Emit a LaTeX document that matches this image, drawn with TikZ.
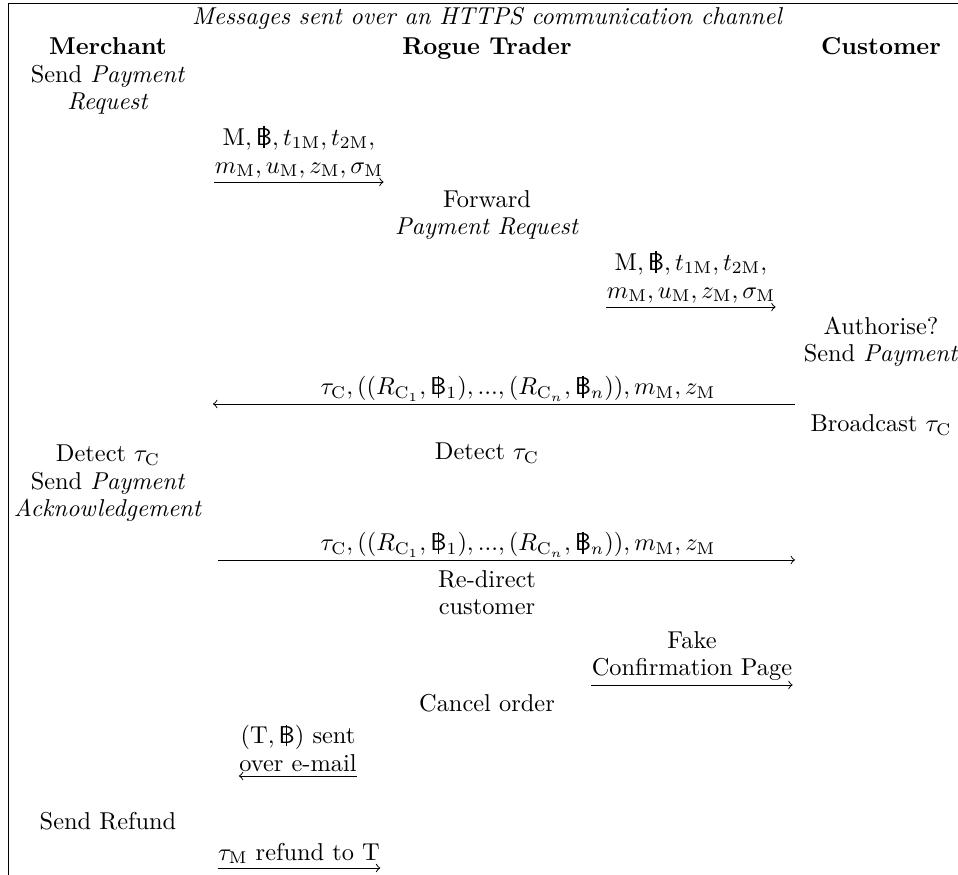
\documentclass[tikz,border=0pt]{standalone}
\newcommand{\btc}{\mbox{\ooalign{\textsf{B}\cr\hidewidth\rule[-0.25ex]{0.055em}{2.05ex}\hidewidth\cr}}}
\begin{document}
\begin{tikzpicture}[x=0.41pt, y=-0.41pt, font=\fontsize{10pt}{11.4pt}\selectfont,
  act/.style={align=center, anchor=base, inner sep=0pt},
  msg/.style={align=center, anchor=south, inner xsep=0pt, inner ysep=1.5pt},
  lbl/.style={above, inner sep=1pt}]
\useasboundingbox (0,0) rectangle (958,875);
\coordinate (fr0) at (8,875);
\coordinate (fr1) at (958,3);
\draw (fr0) |- (fr1);
\node[act] (title) at (487,25) {\itshape Messages sent over an HTTPS communication channel};
\node[act] (merchant) at (108,55) {\textbf{Merchant}};
\node[act] (trader) at (487,55) {\textbf{Rogue Trader}};
\node[act] (customer) at (881,55) {\textbf{Customer}};
\node[act] (m1) at (108,110) {Send \textit{Payment}\\ \textit{Request}};
\node[msg] (msg1) at (299,182) {$\mathrm{M}, \btc, t_{1\mathrm{M}}, t_{2\mathrm{M}},$\\ $m_\mathrm{M}, u_\mathrm{M}, z_\mathrm{M}, \sigma_\mathrm{M}$};
\draw[->] (msg1.south west) -- (msg1.south east);
\node[act] (t1) at (487,235) {Forward\\ \textit{Payment Request}};
\node[msg] (msg2) at (691,307) {$\mathrm{M}, \btc, t_{1\mathrm{M}}, t_{2\mathrm{M}},$\\ $m_\mathrm{M}, u_\mathrm{M}, z_\mathrm{M}, \sigma_\mathrm{M}$};
\draw[->] (msg2.south west) -- (msg2.south east);
\node[act] (c1) at (881,362) {Authorise?\\ Send \textit{Payment}};
\coordinate (p3a) at (795,404);
\coordinate (p3b) at (213,404);
\draw[->] (p3a) -- node[lbl, pos=0.476] (msg3) {$\tau_\mathrm{C}, ((R_{\mathrm{C}_1}, \btc_1), ..., (R_{\mathrm{C}_n}, \btc_n)), m_\mathrm{M}, z_\mathrm{M}$} (p3b);
\node[act] (c2) at (881,432) {Broadcast $\tau_\mathrm{C}$};
\node[act] (m2) at (108,517) {Detect $\tau_\mathrm{C}$\\ Send \textit{Payment}\\ \textit{Acknowledgement}};
\node[act] (t2) at (487,460) {Detect $\tau_\mathrm{C}$};
\coordinate (p4a) at (218,560);
\coordinate (p4b) at (795,560);
\draw[->] (p4a) -- node[lbl, pos=0.52] (msg4) {$\tau_\mathrm{C}, ((R_{\mathrm{C}_1}, \btc_1), ..., (R_{\mathrm{C}_n}, \btc_n)), m_\mathrm{M}, z_\mathrm{M}$} (p4b);
\node[act] (t3) at (487,615) {Re-direct\\ customer};
\node[msg] (msg5) at (692,685) {Fake\\ Confirmation Page};
\draw[->] (msg5.south west) -- (msg5.south east);
\node[act] (t4) at (487,712) {Cancel order};
\node[msg] (msg6) at (298,776) {$(\mathrm{T}, \btc)$ sent\\ over e-mail};
\draw[->] (msg6.south east) -- (msg6.south west);
\node[act] (m3) at (108,830) {Send Refund};
\node[msg] (msg7) at (299,868) {$\tau_\mathrm{M}$ refund to T};
\draw[->] (msg7.south west) -- (msg7.south east);
\end{tikzpicture}
\end{document}
